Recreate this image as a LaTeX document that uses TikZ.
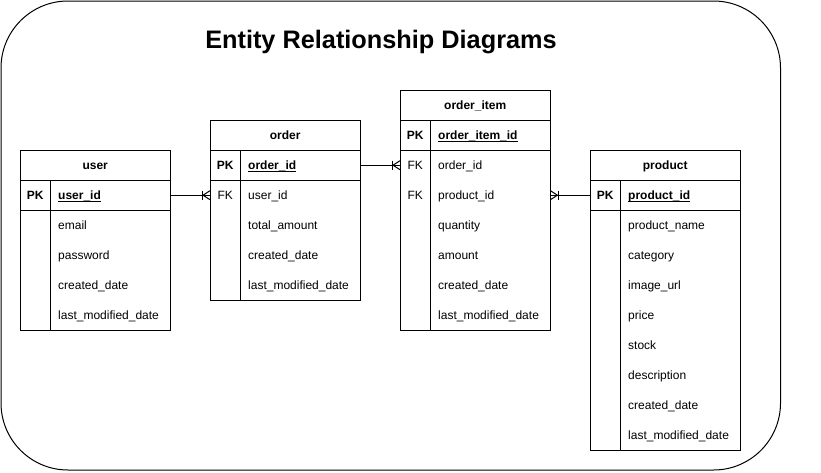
\documentclass[tikz,border=0pt]{standalone}
\usepackage{fontspec}
\usepackage{calc}
\setmainfont{Liberation Sans}
\tikzset{
  conn/.style={draw=black, line width=1pt},
  frame/.style={draw=black, line width=1pt},
  hdr/.style={minimum width=150pt, minimum height=30pt, inner sep=0pt, text height=9.9pt, text depth=1.3pt, font=\fontsize{12}{14}\selectfont\bfseries},
  keycell/.style={minimum width=30pt, minimum height=30pt, inner sep=0pt, text height=9.9pt, text depth=1.3pt, font=\fontsize{12}{14}\selectfont},
  fieldcell/.style={minimum height=30pt, text width=104pt, inner xsep=8pt, inner ysep=0pt, text height=9.9pt, text depth=1.3pt, align=left, font=\fontsize{12}{14}\selectfont},
  titlestyle/.style={font=\fontsize{25.3}{30}\selectfont\bfseries, inner sep=0pt},
}
% #1 name, #2 left x, #3 top y, #4 title, #5 rows, #6 key/field list
\newcommand{\ertable}[6]{%
  \node[hdr, anchor=north west] (#1) at (#2,#3) {#4};
  \foreach [count=\i] \k/\f in {#6} {
    \node[keycell, anchor=north west] (#1-k\i) at (#2, #3+30*\i) {\k};
    \node[fieldcell, anchor=north west] (#1-\i) at (#2+30, #3+30*\i) {\f};
  }
  \draw[frame] (#2,#3) rectangle (#2+150, #3+30+30*#5);
  \draw[frame] (#2,#3+30) -- (#2+150,#3+30);
  \draw[frame] (#2,#3+60) -- (#2+150,#3+60);
  \draw[frame] (#2+30,#3+30) -- (#2+30,#3+30+30*#5);
}
% crow's foot: #1 point on entity edge, #2 apex offset, #3 bar offset
\newcommand{\crowfoot}[3]{%
  \draw[conn] (#1) ++(0,-4.5) -- ++(#2,4.5) -- ++(-#2,4.5);
  \draw[conn] (#1) ++(#3,-4.5) -- ++(0,9);
}
\newcommand{\pkey}[1]{\textbf{#1}\llap{\rule[-2.6pt]{\widthof{\textbf{#1}}}{0.8pt}}}
\begin{document}
\begin{tikzpicture}[x=1pt, y=-1pt]
\useasboundingbox (0,0) rectangle (821,472);
\draw[line width=1pt, rounded corners=67pt] (1,1) rectangle (780.5,470);
\node[titlestyle] (title) at (381,42) {Entity Relationship Diagrams};

\ertable{user}{20}{150}{user}{5}{%
  \textbf{PK}/\pkey{user\_id},
  {}/email,
  {}/password,
  {}/created\_date,
  {}/last\_modified\_date}

\ertable{order}{210}{120}{order}{5}{%
  \textbf{PK}/\pkey{order\_id},
  FK/user\_id,
  {}/total\_amount,
  {}/created\_date,
  {}/last\_modified\_date}

\ertable{oitem}{400}{90}{order\_item}{7}{%
  \textbf{PK}/\pkey{order\_item\_id},
  FK/order\_id,
  FK/product\_id,
  {}/quantity,
  {}/amount,
  {}/created\_date,
  {}/last\_modified\_date}

\ertable{product}{590}{150}{product}{9}{%
  \textbf{PK}/\pkey{product\_id},
  {}/product\_name,
  {}/category,
  {}/image\_url,
  {}/price,
  {}/stock,
  {}/description,
  {}/created\_date,
  {}/last\_modified\_date}

% relationships
\draw[conn] (user-1.east) -- (order-k2.west);
\crowfoot{order-k2.west}{-7}{-8}
\draw[conn] (order-1.east) -- (oitem-k2.west);
\crowfoot{oitem-k2.west}{-7}{-8}
\draw[conn] (oitem-3.east) -- (product-k1.west);
\crowfoot{oitem-3.east}{7}{8}
\end{tikzpicture}
\end{document}
